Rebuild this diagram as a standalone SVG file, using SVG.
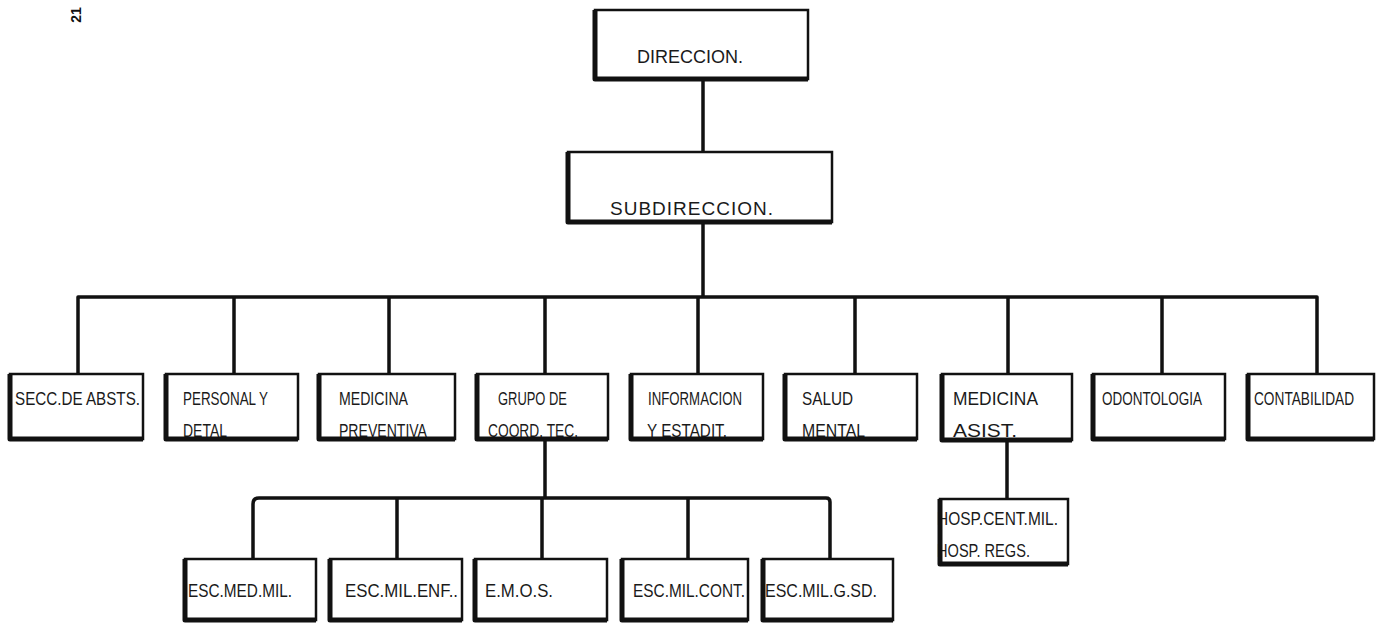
<svg xmlns="http://www.w3.org/2000/svg" width="1377" height="623" viewBox="0 0 1377 623">
  <style>
    .bg { fill: #ffffff; }
    .box { fill: none; stroke: #111; stroke-width: 2.5; }
    .heavy { fill: none; stroke: #111; stroke-width: 5; stroke-linejoin: round; }
    .wire { fill: none; stroke: #111; stroke-width: 3.5; stroke-linejoin: round; }
    .lbl { font-family: "Liberation Sans Narrow", "Liberation Sans", "DejaVu Sans", sans-serif; font-size: 19px; fill: #1a1a1a; }
    .big { font-size: 19px; }
    .pg { font-family: "Liberation Sans", sans-serif; font-size: 14px; font-weight: bold; fill: #111; }
  </style>
  <rect class="bg" x="0" y="0" width="1377" height="623"/>

  <!-- page number -->
  <text class="pg" transform="translate(81,15) rotate(-90)" text-anchor="middle">21</text>

  <!-- connectors -->
  <g id="connectors">
    <path class="wire" d="M703 79 V152"/>
    <path class="wire" d="M703 222 V297"/>
    <path class="wire" d="M78 374 V297 H1317 V374"/>
    <path class="wire" d="M234 297 V374 M389 297 V374 M545 297 V374 M698 297 V374 M855 297 V374 M1008 297 V374 M1162 297 V374"/>
    <path class="wire" d="M545 439 V498"/>
    <path class="wire" d="M253 559 V504 Q253 498 259 498 H826 Q830 498 830 502 V559"/>
    <path class="wire" d="M397 498 V559 M542 498 V559 M688 498 V559"/>
    <path class="wire" d="M1007 440 V499"/>
  </g>

  <!-- top levels -->
  <g id="n-direccion">
    <text class="lbl big" x="637" y="63" textLength="106" lengthAdjust="spacingAndGlyphs">DIRECCION.</text>
    <rect class="box" x="595" y="10" width="213" height="69"/>
    <path class="heavy" d="M595 10 V79 H808"/>
  </g>
  <g id="n-subdireccion">
    <text class="lbl big" x="610" y="215" textLength="163" lengthAdjust="spacing">SUBDIRECCION.</text>
    <rect class="box" x="568" y="152" width="264" height="70"/>
    <path class="heavy" d="M568 152 V222 H832"/>
  </g>

  <!-- second level -->
  <g id="n-secc">
    <text class="lbl" x="15" y="405" textLength="125" lengthAdjust="spacingAndGlyphs">SECC.DE ABSTS.</text>
    <rect class="box" x="10" y="374" width="133" height="65"/>
    <path class="heavy" d="M10 374 V439 H143"/>
  </g>
  <g id="n-personal">
    <text class="lbl" x="183" y="405" textLength="85" lengthAdjust="spacingAndGlyphs">PERSONAL Y</text>
    <text class="lbl" x="183" y="437" textLength="44" lengthAdjust="spacingAndGlyphs">DETAL</text>
    <rect class="box" x="166" y="374" width="132" height="65"/>
    <path class="heavy" d="M166 374 V439 H298"/>
  </g>
  <g id="n-medprev">
    <text class="lbl" x="339" y="405" textLength="69" lengthAdjust="spacingAndGlyphs">MEDICINA</text>
    <text class="lbl" x="339" y="437" textLength="88" lengthAdjust="spacingAndGlyphs">PREVENTIVA</text>
    <rect class="box" x="319" y="374" width="136" height="65"/>
    <path class="heavy" d="M319 374 V439 H455"/>
  </g>
  <g id="n-grupo">
    <text class="lbl" x="498" y="405" textLength="69" lengthAdjust="spacingAndGlyphs">GRUPO DE</text>
    <text class="lbl" x="488" y="437" textLength="90" lengthAdjust="spacingAndGlyphs">COORD. TEC.</text>
    <rect class="box" x="477" y="374" width="131" height="65"/>
    <path class="heavy" d="M477 374 V439 H608"/>
  </g>
  <g id="n-informacion">
    <text class="lbl" x="648" y="405" textLength="94" lengthAdjust="spacingAndGlyphs">INFORMACION</text>
    <text class="lbl" x="647" y="437" textLength="80" lengthAdjust="spacingAndGlyphs">Y ESTADIT.</text>
    <rect class="box" x="631" y="374" width="132" height="65"/>
    <path class="heavy" d="M631 374 V439 H763"/>
  </g>
  <g id="n-salud">
    <text class="lbl" x="802" y="405" textLength="51" lengthAdjust="spacingAndGlyphs">SALUD</text>
    <text class="lbl" x="802" y="437" textLength="63" lengthAdjust="spacingAndGlyphs">MENTAL</text>
    <rect class="box" x="785" y="374" width="132" height="65"/>
    <path class="heavy" d="M785 374 V439 H917"/>
  </g>
  <g id="n-medasist">
    <text class="lbl" x="953" y="405" textLength="85" lengthAdjust="spacingAndGlyphs">MEDICINA</text>
    <text class="lbl" x="953" y="437" textLength="64" lengthAdjust="spacingAndGlyphs">ASIST.</text>
    <rect class="box" x="942" y="374" width="130" height="66"/>
    <path class="heavy" d="M942 374 V440 H1072"/>
  </g>
  <g id="n-odontologia">
    <text class="lbl" x="1102" y="405" textLength="100" lengthAdjust="spacingAndGlyphs">ODONTOLOGIA</text>
    <rect class="box" x="1093" y="374" width="132" height="65"/>
    <path class="heavy" d="M1093 374 V439 H1225"/>
  </g>
  <g id="n-contabilidad">
    <!-- condensed by a horizontal scale so the label stays inside the page -->
    <text class="lbl" transform="translate(1254,405) scale(0.72,1)" x="0" y="0">CONTABILIDAD</text>
    <rect class="box" x="1248" y="374" width="126" height="65"/>
    <path class="heavy" d="M1248 374 V439 H1374"/>
  </g>

  <!-- schools -->
  <g id="n-escmedmil">
    <text class="lbl" x="188" y="597" textLength="104" lengthAdjust="spacingAndGlyphs">ESC.MED.MIL.</text>
    <rect class="box" x="185" y="559" width="131" height="61"/>
    <path class="heavy" d="M185 559 V620 H316"/>
  </g>
  <g id="n-escmilenf">
    <text class="lbl" x="345" y="597" textLength="113" lengthAdjust="spacingAndGlyphs">ESC.MIL.ENF..</text>
    <rect class="box" x="330" y="559" width="132" height="61"/>
    <path class="heavy" d="M330 559 V620 H462"/>
  </g>
  <g id="n-emos">
    <text class="lbl" x="485" y="597" textLength="68" lengthAdjust="spacingAndGlyphs">E.M.O.S.</text>
    <rect class="box" x="475" y="559" width="132" height="61"/>
    <path class="heavy" d="M475 559 V620 H607"/>
  </g>
  <g id="n-escmilcont">
    <text class="lbl" x="633" y="597" textLength="112" lengthAdjust="spacingAndGlyphs">ESC.MIL.CONT.</text>
    <rect class="box" x="622" y="559" width="126" height="61"/>
    <path class="heavy" d="M622 559 V620 H748"/>
  </g>
  <g id="n-escmilgsd">
    <text class="lbl" x="765" y="597" textLength="112" lengthAdjust="spacingAndGlyphs">ESC.MIL.G.SD.</text>
    <rect class="box" x="763" y="559" width="130" height="61"/>
    <path class="heavy" d="M763 559 V620 H893"/>
  </g>

  <!-- hospitals -->
  <g id="n-hospitales">
    <text class="lbl" x="937" y="525" textLength="121" lengthAdjust="spacingAndGlyphs">HOSP.CENT.MIL.</text>
    <text class="lbl" x="937" y="557" textLength="93" lengthAdjust="spacingAndGlyphs">HOSP. REGS.</text>
    <rect class="box" x="940" y="499" width="128" height="65"/>
    <path class="heavy" d="M940 499 V564 H1068"/>
  </g>
</svg>
